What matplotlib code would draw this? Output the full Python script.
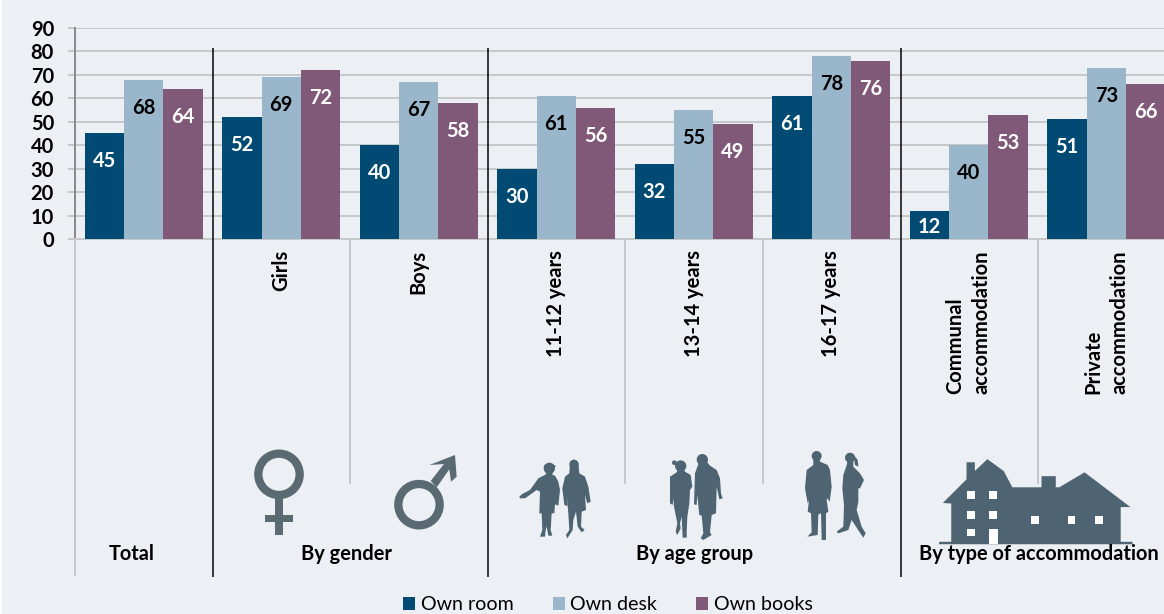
import numpy as np
import matplotlib
matplotlib.use("Agg")
import matplotlib.pyplot as plt
from matplotlib.patches import Polygon, Circle, Rectangle

plt.rcParams['font.family'] = ['Lato', 'DejaVu Sans']

# data
categories = ["", "Girls", "Boys", "11-12 years", "13-14 years", "16-17 years",
              "Communal\naccommodation", "Private\naccommodation"]
own_room = [45, 52, 40, 30, 32, 61, 12, 51]
own_desk = [68, 69, 67, 61, 55, 78, 40, 73]
own_books = [64, 72, 58, 56, 49, 76, 53, 66]
yticks = [0, 10, 20, 30, 40, 50, 60, 70, 80, 90]
groups = ["Total", "By gender", "By age group", "By type of accommodation"]
group_x = [131.5, 346.5, 695, 1038.5]

BG = "#ECEFF3"
GRID = "#C6C8CA"
ICON = "#4F6472"
ICON2 = "#5A6A72"
W, H = 1164, 614
PX = 0.72  # 1 px in points at dpi 100

fig = plt.figure(figsize=(W / 100, H / 100), dpi=100, facecolor="white")

# axes goes past the right edge of the figure, the last bar is cut in the original
ax = fig.add_axes([75 / W, (H - 239) / H, 1100 / W, 211 / H])
fig.patches.append(Rectangle((2 / W, 1 / H), 1, 1, transform=fig.transFigure, color=BG, zorder=-5))
ax.patch.set_alpha(0)

x = np.arange(len(categories))
bw = 39.3 / 137.5
bars1 = ax.bar(x - bw, own_room, bw, color="#004A73", label="Own room", zorder=3)
bars2 = ax.bar(x, own_desk, bw, color="#9AB6CA", label="Own desk", zorder=3)
bars3 = ax.bar(x + bw, own_books, bw, color="#805978", label="Own books", zorder=3)

ax.set_xlim(-0.5, 7.5)
ax.set_ylim(0, 90)
ax.set_yticks(yticks)
ax.set_xticks([])
ax.grid(axis="y", color=GRID, lw=2 * PX, zorder=1)
ax.set_axisbelow(True)
ax.tick_params(axis="y", length=7 * PX, width=2 * PX, color=GRID, pad=14 * PX)
for lab in ax.get_yticklabels():
    lab.set_fontsize(14.5)
    lab.set_fontweight("bold")
for s in ["top", "right"]:
    ax.spines[s].set_visible(False)
ax.spines["left"].set_color("#8C8C8C")
ax.spines["left"].set_linewidth(2 * PX)
ax.spines["bottom"].set_color(GRID)
ax.spines["bottom"].set_linewidth(2 * PX)

# value labels
for bars, col in [(bars1, "white"), (bars2, "black"), (bars3, "white")]:
    for b in bars:
        h = b.get_height()
        off = min(26, h * 211 / 90 / 2)
        ax.annotate(str(int(h)), (b.get_x() + b.get_width() / 2, h), xytext=(0, -off * PX),
                    textcoords="offset points", ha="center", va="center_baseline",
                    color=col, fontsize=14.5, fontweight="bold", zorder=5)

# overlay in pixel coordinates for everything under the axis
ov = fig.add_axes([0, 0, 1, 1])
ov.set_xlim(0, W)
ov.set_ylim(H, 0)
ov.axis("off")
ov.patch.set_alpha(0)

for xp in [350, 625, 763, 1038]:
    ov.plot([xp, xp], [239, 484], color=GRID, lw=2 * PX, solid_capstyle="butt")
ov.plot([75, 75], [239, 576], color=GRID, lw=2 * PX, solid_capstyle="butt")
for xp in [212.5, 488, 900.5]:
    ov.plot([xp, xp], [48, 577], color="black", lw=1.5 * PX, solid_capstyle="butt", zorder=4)

for i, c in enumerate(categories):
    if c:
        ov.text(75 + 137.5 * (i + 0.5), 250, c, rotation=90, ha="center", va="top", multialignment="left",
                fontsize=14.5, fontweight="bold", linespacing=1.4)
for g, xp in zip(groups, group_x):
    ov.text(xp, 554, g, ha="center", va="center", fontsize=14.4, fontweight="bold")


def to_px(pts, ox, oy, k=3):
    return [(ox + a / k, oy + b / k) for a, b in pts]


def person(body, head, ox, oy, col=ICON):
    ov.add_patch(Polygon(to_px(body, ox, oy), closed=True, color=col, lw=0))
    ov.add_patch(Circle((ox + head[0] / 3, oy + head[1] / 3), head[2] / 3, color=col, lw=0))


# gender icons
ov.add_patch(Circle((220 + 177 / 3, 430 + 133 / 3), 62 / 3, fill=False, ec=ICON2, lw=8.3 * PX))
ov.add_patch(Rectangle((220 + 165 / 3, 430 + 205 / 3), 24 / 3, 110 / 3, color=ICON2, lw=0))
ov.add_patch(Rectangle((220 + 134 / 3, 430 + 255 / 3), 86 / 3, 20 / 3, color=ICON2, lw=0))
ov.add_patch(Circle((220 + 597 / 3, 430 + 224 / 3), 62 / 3, fill=False, ec=ICON2, lw=8.3 * PX))
ov.add_patch(Polygon(to_px([(632, 153), (672, 102), (628, 105), (705, 75), (710, 140), (693, 155),
                            (688, 118), (650, 172)], 220, 430), closed=True, color=ICON2, lw=0))

# people
person([(28, 155), (35, 148), (60, 135), (85, 100), (108, 88), (110, 70), (125, 70), (128, 90), (135, 92), (145, 110),
        (150, 135), (145, 182), (135, 178), (133, 205), (125, 205), (122, 255), (127, 272), (115, 272), (110, 245),
        (107, 255), (105, 275), (90, 275), (97, 255), (95, 205), (88, 205), (90, 140), (80, 135), (45, 160), (30, 160)],
       (118, 70, 17), 510, 445)
ov.add_patch(Polygon(to_px([(103, 60), (125, 56), (138, 63), (128, 70), (103, 70)], 510, 445), closed=True, color=ICON, lw=0))
person([(192, 43), (205, 55), (208, 85), (225, 95), (235, 125), (242, 170), (232, 175), (225, 150), (228, 195),
        (215, 200), (213, 245), (224, 255), (215, 262), (203, 245), (198, 200), (190, 225), (188, 255), (172, 280),
        (168, 270), (178, 255), (175, 205), (170, 150), (172, 183), (163, 180), (157, 130), (165, 95), (178, 85),
        (180, 55)], (192, 58, 14), 510, 445)
person([(50, 82), (55, 70), (70, 70), (75, 80), (92, 90), (97, 125), (90, 135), (88, 175), (82, 215), (80, 260), (80, 278), (68, 278),
        (65, 215), (60, 235), (62, 250), (52, 270), (47, 260), (52, 235), (42, 185), (40, 160), (38, 180), (30, 175),
        (30, 95)], (62, 63, 17), 660, 445)
ov.add_patch(Circle((660 + 43 / 3, 445 + 53 / 3), 7 / 3, color=ICON, lw=0))
person([(112, 65), (118, 50), (140, 50), (150, 62), (170, 75), (180, 100), (183, 145), (188, 160), (178, 163), (170, 125), (168, 205),
        (155, 210), (150, 262), (155, 270), (130, 285), (122, 280), (130, 265), (125, 212), (118, 210), (112, 150),
        (110, 180), (102, 178), (105, 85)], (127, 44, 17), 660, 445)
person([(55, 40), (75, 40), (75, 50), (98, 60), (105, 75), (110, 125), (104, 170), (97, 160), (95, 165), (100, 200), (93, 205),
        (93, 285), (80, 285), (78, 205), (70, 208), (68, 270), (37, 275), (50, 262), (48, 205), (38, 200), (42, 165),
        (38, 175), (30, 130), (35, 75), (55, 60)], (65, 33, 15), 795, 445)
person([(158, 45), (175, 45), (175, 65), (195, 85), (207, 105), (195, 130), (190, 130), (190, 170), (185, 195), (200, 245),
        (212, 265), (205, 278), (196, 265), (170, 225), (160, 255), (130, 265), (125, 260), (145, 245), (147, 180),
        (142, 130), (145, 90), (155, 60)], (165, 38, 15), 795, 445)
ov.add_patch(Polygon(to_px([(175, 28), (188, 45), (190, 65), (180, 60)], 795, 445), closed=True, color=ICON, lw=0))

K = 2.88
house = [(930, 210), (998, 142), (998, 93), (1022, 93), (1022, 118), (1058, 84), (1105, 118), (1130, 165), (1214, 165),
         (1214, 133), (1255, 133), (1255, 165), (1265, 165), (1338, 122), (1470, 222), (1442, 222), (1442, 322),
         (1476, 322), (1476, 329), (919, 329), (919, 322), (954, 322), (954, 212)]
ov.add_patch(Polygon(to_px(house, 620, 430, K), closed=True, color=ICON, lw=0))
windows = [(1000, 177, 1023, 198), (1064, 177, 1085, 198), (1000, 234, 1023, 255), (1064, 234, 1085, 255),
           (1000, 285, 1023, 305), (1064, 285, 1088, 327), (1185, 249, 1208, 270), (1291, 249, 1311, 270),
           (1369, 249, 1392, 270)]
for a, b, c, d in windows:
    ov.add_patch(Rectangle((620 + a / K, 430 + b / K), (c - a) / K, (d - b) / K, color="white", lw=0))

# legend
fig.legend(handles=[bars1, bars2, bars3], loc="center", bbox_to_anchor=(608 / W, (H - 605) / H), ncol=3,
           frameon=False, fontsize=14.1, handlelength=0.62, handleheight=0.62, handletextpad=0.28,
           columnspacing=2.0, borderpad=0, borderaxespad=0)

fig.savefig("out.png", dpi=100, facecolor="white")
